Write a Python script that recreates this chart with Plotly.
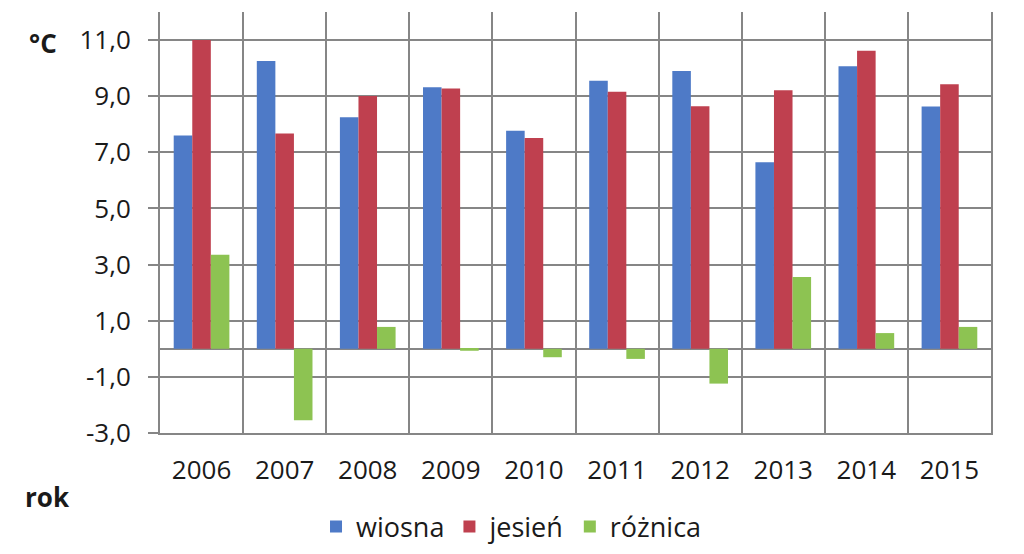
import plotly.graph_objects as go

years = ["2006", "2007", "2008", "2009", "2010", "2011", "2012", "2013", "2014", "2015"]
wiosna = [7.6, 10.25, 8.25, 9.32, 7.77, 9.55, 9.9, 6.65, 10.07, 8.63]
jesien = [11.0, 7.67, 9.01, 9.27, 7.51, 9.16, 8.64, 9.21, 10.62, 9.43]
roznica = [3.35, -2.55, 0.78, -0.07, -0.3, -0.36, -1.24, 2.56, 0.56, 0.78]

tick_vals = [-3, -1, 1, 3, 5, 7, 9, 11]
tick_text = ["-3,0", "-1,0", "1,0", "3,0", "5,0", "7,0", "9,0", "11,0"]

FONT = "Open Sans"
GRID = "#868686"
TXT = "#1a1a1a"
FS = 26

fig = go.Figure()
fig.add_trace(go.Bar(name="wiosna", x=years, y=wiosna, marker_color="#4E7AC7", marker_line_width=0))
fig.add_trace(go.Bar(name="jesień", x=years, y=jesien, marker_color="#BF404F", marker_line_width=0))
fig.add_trace(go.Bar(name="różnica", x=years, y=roznica, marker_color="#8DC352", marker_line_width=0))

fig.update_layout(
    width=1024, height=554,
    margin=dict(l=160, r=33, t=12, b=121, autoexpand=False),
    paper_bgcolor="white", plot_bgcolor="white",
    barmode="group", bargap=0.33, bargroupgap=0,
    font=dict(family=FONT, size=FS, color=TXT),
    showlegend=True,
    legend=dict(orientation="h", xref="paper", x=0.423, xanchor="center",
                yref="container", y=0.049, yanchor="middle",
                font=dict(family=FONT, size=27, color=TXT), itemclick=False),
    xaxis=dict(
        type="category", range=[-0.5, 9.5], tickson="boundaries",
        showgrid=True, gridcolor=GRID, gridwidth=2,
        showline=True, linecolor=GRID, linewidth=2,
        ticks="", ticklabelstandoff=13, automargin=False,
        tickfont=dict(family=FONT, size=FS, color=TXT),
    ),
    yaxis=dict(
        range=[-3, 12], tickvals=tick_vals, ticktext=tick_text,
        showgrid=True, gridcolor=GRID, gridwidth=2,
        zeroline=True, zerolinecolor=GRID, zerolinewidth=2,
        showline=True, mirror=True, linecolor=GRID, linewidth=2,
        ticks="outside", ticklen=10, tickwidth=2, tickcolor=GRID,
        ticklabelstandoff=12, automargin=False,
        tickfont=dict(family=FONT, size=FS, color=TXT),
    ),
    annotations=[
        dict(text="<b>°C</b>", xref="paper", yref="paper", x=-0.141, y=0.926,
             xanchor="center", yanchor="middle", showarrow=False,
             font=dict(family=FONT, size=FS, color=TXT)),
        dict(text="<b>rok</b>", xref="paper", yref="paper", x=-0.135, y=-0.152,
             xanchor="center", yanchor="middle", showarrow=False,
             font=dict(family=FONT, size=FS, color=TXT)),
    ],
)

fig.write_html(
    "out.html",
    config={"displayModeBar": False},
    post_script="document.body.style.margin='0';document.body.style.overflow='hidden';",
)
